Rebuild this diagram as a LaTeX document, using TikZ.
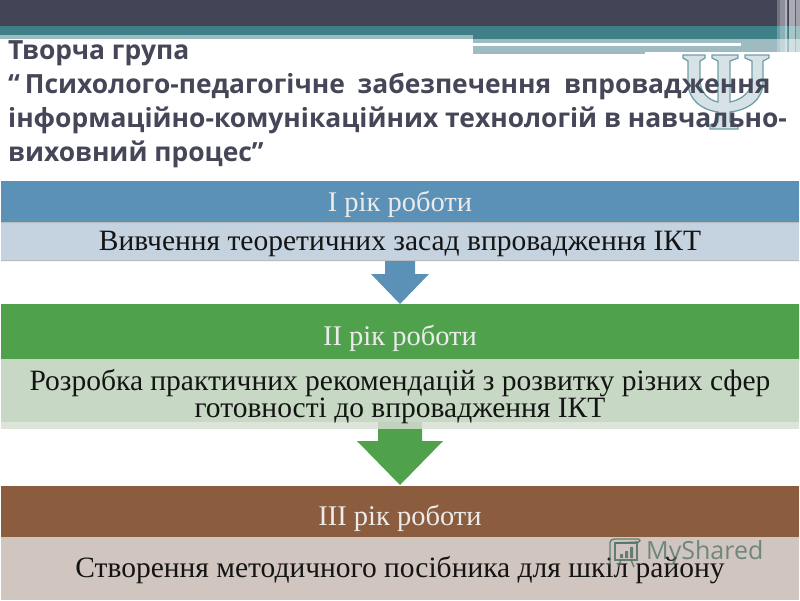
\documentclass[tikz,border=0pt]{standalone}
\usepackage{fontspec}
\setmainfont{Liberation Serif}
\newfontfamily\titlefont{Open Sans}
\newfontfamily\markfont{Open Sans}
\definecolor{hdark}{HTML}{434557}
\definecolor{hteal}{HTML}{3F7F88}
\definecolor{hlite}{HTML}{9DBBC0}
\definecolor{tcol}{HTML}{454657}
\definecolor{blueH}{HTML}{5B90B7}
\definecolor{blueB}{HTML}{C5D2DF}
\definecolor{greenH}{HTML}{4FA24B}
\definecolor{greenB}{HTML}{C7D9C4}
\definecolor{greenL}{HTML}{DDE5DB}
\definecolor{brownH}{HTML}{8B5C3D}
\definecolor{brownB}{HTML}{D0C5BF}
\definecolor{marktxt}{HTML}{4F7266}
\definecolor{edgeg}{HTML}{B9BDBF}
\tikzset{
 hwhite/.style={anchor=center,inner sep=0pt,text=white!92!black,font=\fontsize{28.5}{28.5}\selectfont},
 bodytxt/.style={anchor=center,inner sep=0pt,align=center,text=black!92,font=\fontsize{29.5}{24.5}\selectfont},
 ttl/.style={anchor=base west,inner sep=0pt,text=tcol,font=\titlefont\bfseries\fontsize{26.4}{26.4}\selectfont},
}
\begin{document}
\begin{tikzpicture}[x=1pt,y=-1pt]
\useasboundingbox (0,0) rectangle (800,600);
\fill[white] (0,0) rectangle (800,600);
% header bands
\fill[hdark] (0,0) rectangle (800,26);
\fill[hteal] (0,26) rectangle (800,35);
\fill[hlite] (0,35) rectangle (473,39);
\fill[hteal] (473,35) rectangle (800,39);
\fill[hlite] (473,39) rectangle (800,43);
\fill[white] (473,43) rectangle (741,45.5);
\fill[hlite] (741,43) rectangle (800,45.5);
\fill[hlite] (473,45.5) rectangle (645,54);
\fill[hlite] (645,45.5) rectangle (800,52);
\foreach \x/\w/\o in {777/3/.25,780/5/.4,785/2/.6,787/1/.1,788/1/.0,789/6/.55,795/1/.15,796/4/.5}{\fill[white,opacity=\o] (\x,0) rectangle ++(\w,53);}
% psi
\path[fill=hlite!42,draw=hteal!75!white,line width=1.3pt]
 (683,55) -- (705,55) -- (705,58) -- (700,61) -- (700,80)
 .. controls (700,92) and (708,100) .. (718,102) -- (718,61) -- (712,58) -- (712,55) -- (738,55) -- (738,58) -- (730,61) -- (730,102)
 .. controls (741,100) and (752,92) .. (752,80) -- (752,61) -- (745,58) -- (745,55) -- (769,55) -- (769,58) -- (763,61) -- (763,82)
 .. controls (763,100) and (748,110) .. (730,112) -- (730,122) -- (738,125) -- (738,129) -- (710,129) -- (710,125) -- (718,122) -- (718,112)
 .. controls (702,110) and (688,100) .. (688,82) -- (688,61) -- (683,58) -- cycle;
% title
\node[ttl] (t1) at (8,59) {Творча група};
\node[ttl] (t2) at (8,93) {“\kern5pt Психолого-педагогічне\kern6pt\ забезпечення\kern6pt\ впровадження};
\node[ttl] (t3) at (8,127) {інформаційно-комунікаційних технологій в навчально-};
\node[ttl] (t4) at (8,161) {виховний процес”};
% boxes
\fill[blueH] (1,181) rectangle (799,222);
\fill[blueB] (1,222) rectangle (799,261);
\fill[edgeg] (1,222) rectangle (799,223) (1,260) rectangle (799,261);
\fill[greenH] (1,304) rectangle (799,359);
\fill[greenB] (1,359) rectangle (799,422);
\fill[greenL] (1,422) rectangle (799,429);
\fill[greenB!97!black] (378,422) rectangle (422,429);
\fill[brownH] (1,486) rectangle (799,537);
\fill[brownB] (1,537) rectangle (799,600);
% nodes
\node[hwhite] (a) at (400,204) {І рік роботи};
\node[bodytxt] (b) at (400,244) {Вивчення теоретичних засад впровадження ІКТ};
\node[hwhite] (c) at (400,338) {ІІ рік роботи};
\node[bodytxt] (d) at (400,396.5) {Розробка практичних рекомендацій з розвитку різних сфер\\готовності до впровадження ІКТ};
\node[hwhite] (e) at (400,518) {ІІІ рік роботи};
\node[bodytxt] (f) at (400,570) {Створення методичного посібника для шкіл району};
% arrows
\fill[blueH] (385,261) -- (415,261) -- (415,274) -- (429,274) -- (400,304) -- (371,274) -- (385,274) -- cycle;
\fill[greenH] (378,429) -- (422,429) -- (422,441) -- (443,441) -- (400,485) -- (357,441) -- (378,441) -- cycle;
% watermark
\node[anchor=west,inner sep=0pt,text=marktxt,opacity=.75,font=\markfont\fontsize{25}{25}\selectfont] (m) at (646,553) {MyShared};
\begin{scope}[marktxt,opacity=.85,line width=1.4pt]
\draw (615,543) rectangle (637,560);
\draw[rounded corners=1.5pt] (610,565) -- (610,541) -- (613,539) -- (640,539) -- (640,542) -- (615,543);
\draw (621,560) -- (618,567) (631,560) -- (634,567);
\fill (620,554) rectangle ++(3,4) (625,551) rectangle ++(3,7) (630,547) rectangle ++(3,11);
\end{scope}
\end{tikzpicture}
\end{document}
